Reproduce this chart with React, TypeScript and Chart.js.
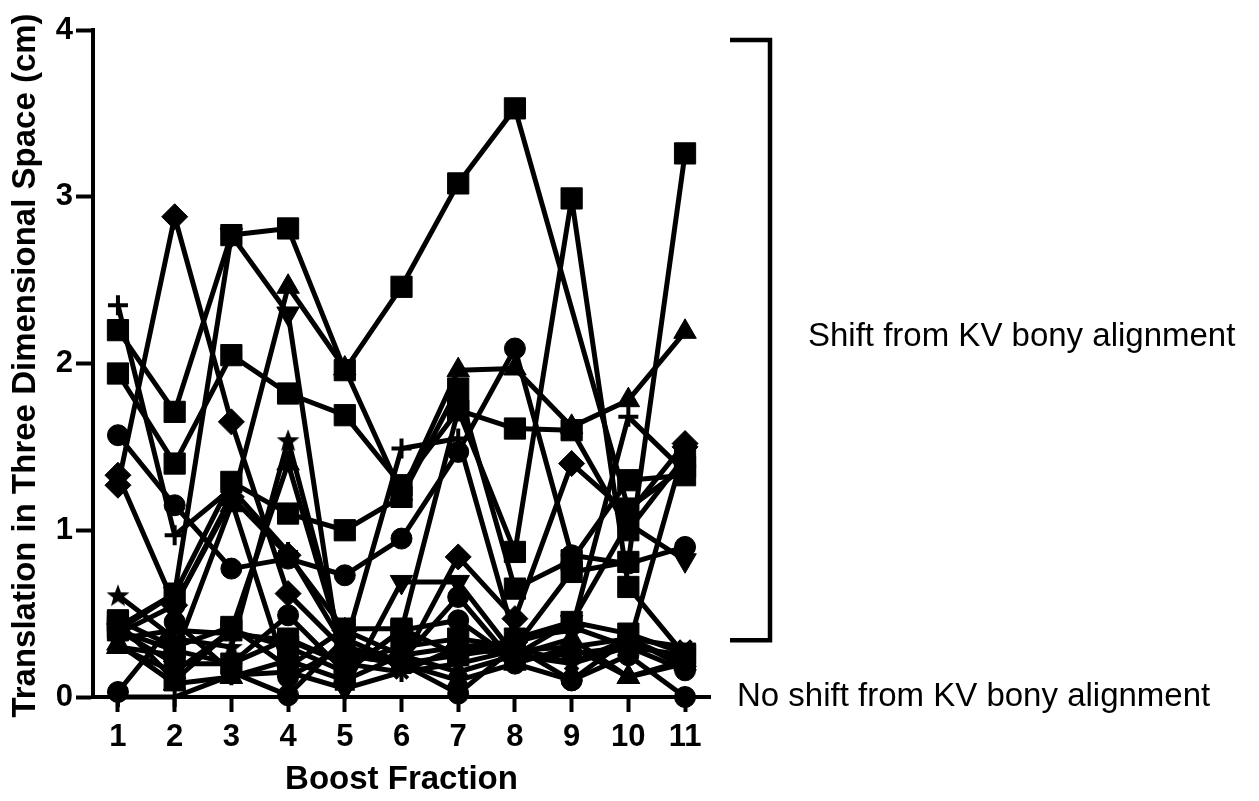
import React, { useEffect, useRef } from "react";
import { Chart, registerables } from "chart.js";

Chart.register(...registerables);

// ---- data ----
const fractions = [1, 2, 3, 4, 5, 6, 7, 8, 9, 10, 11];
const xTickValues = [1, 2, 3, 4, 5, 6, 7, 8, 9, 10, 11];
const yTickValues = [0, 1, 2, 3, 4];

const seriesA = [2.20, 1.71, 2.77, 2.81, 1.96, 2.46, 3.08, 3.53, null, 1.13, 1.38];
const seriesB = [1.94, 1.40, 2.05, 1.82, 1.69, 1.27, 1.72, 1.61, 1.60, 1.00, 1.44];
const seriesC = [1.27, 2.88, 1.65, 0.62, 0.28, 0.20, 0.84, 0.47, 1.40, 1.10, 1.52];
const seriesD = [1.33, 0.55, 1.20, 0.85, 0.40, 0.25, 0.30, 0.33, 0.42, 0.30, 1.50];
const seriesE = [0.30, 0.25, 1.15, 2.46, 1.97, 1.22, 1.96, 1.97, 1.62, 1.78, 2.19];
const seriesF = [0.40, 0.62, 2.77, 2.30, 0.05, 0.69, 0.69, 0.25, 0.45, 1.04, 0.82];
const seriesG = [1.57, 1.15, 0.77, 0.83, 0.73, 0.95, 1.47, 2.09, 0.85, 0.80, 0.90];
const seriesH = [0.46, 0.30, 0.42, 0.18, 0.41, 0.41, 0.25, 0.35, 0.45, 0.38, 0.26];
const seriesI = [0.40, 0.20, 0.20, 0.49, 0.15, 0.40, 0.46, 0.22, 0.26, 0.30, 0.16];
const seriesJ = [0.03, 0.45, 0.15, 0.01, 0.35, 0.20, 0.02, 0.30, 0.10, 0.25, 0.00];
const seriesK = [2.35, 0.97, 1.25, 0.87, 0.30, 1.49, 1.55, 0.35, 0.40, 1.68, 1.35];
const seriesL = [0.00, 0.00, 0.13, 0.15, 0.05, 0.15, 0.20, 0.28, 0.30, 0.35, 0.20];
const seriesM = [0.61, 0.35, 0.30, 1.54, 0.25, 0.20, 0.25, 0.30, 0.20, 0.30, 0.25];
const seriesN = [0.32, 0.08, 0.12, 0.22, 0.10, 0.25, 0.15, 0.25, 0.35, 0.12, 0.22];
const seriesO = [0.35, 0.40, 0.38, 0.34, 0.20, 0.15, 0.30, 0.25, 0.20, 0.35, 0.30];
const seriesP = [0.42, 0.62, 1.29, 1.10, 1.00, 1.20, 1.85, 0.65, 0.82, 1.30, 1.33];
const seriesQ = [0.45, 0.10, 0.40, 0.30, 0.15, 0.40, 1.72, 0.87, 2.99, 0.66, 0.25];
const seriesR = [0.40, 0.28, 0.20, 0.35, 0.20, 0.30, 0.35, 0.30, 0.75, 0.81, 3.26];
const seriesS = [0.30, 0.15, 0.40, 1.40, 0.25, 0.20, 0.10, 0.20, 0.30, 0.12, 0.20];
const seriesT = [0.38, 0.55, 1.18, 0.12, 0.30, 0.22, 0.60, 0.20, 0.10, 0.35, 0.18];

const allSeries = [
  seriesA, seriesB, seriesC, seriesD, seriesE, seriesF, seriesG, seriesH, seriesI, seriesJ,
  seriesK, seriesL, seriesM, seriesN, seriesO, seriesP, seriesQ, seriesR, seriesS, seriesT,
];
const markerKinds = [
  "square", "square", "diamond", "diamond", "triUp", "triDown", "circle", "square", "circle", "circle",
  "plus", "plus", "star", "triUp", "x", "square", "square", "square", "triUp", "circle",
];

const xTitle = "Boost Fraction";
const yTitle = "Translation in Three Dimensional Space (cm)";
const shiftLabel = "Shift from KV bony alignment";
const noShiftLabel = "No shift from KV bony alignment";
const bracketRange = [0.34, 3.94];
const shiftLabelValue = 2.16;
const noShiftLabelValue = 0;

const FONT = '"Liberation Sans", Arial, Helvetica, sans-serif';

function makeStar(): HTMLCanvasElement {
  const c = document.createElement("canvas");
  c.width = 26;
  c.height = 26;
  const g = c.getContext("2d")!;
  g.fillStyle = "#000";
  g.beginPath();
  const cx = 13, cy = 14, ro = 12, ri = 5;
  for (let i = 0; i < 10; i++) {
    const r = i % 2 === 0 ? ro : ri;
    const a = -Math.PI / 2 + (i * Math.PI) / 5;
    const px = cx + r * Math.cos(a);
    const py = cy + r * Math.sin(a);
    if (i === 0) g.moveTo(px, py);
    else g.lineTo(px, py);
  }
  g.closePath();
  g.fill();
  return c;
}

function markerProps(kind: string, star: HTMLCanvasElement) {
  switch (kind) {
    case "square":
      return { pointStyle: "rect", pointRadius: 15, pointBorderWidth: 1, pointRotation: 0 };
    case "circle":
      return { pointStyle: "circle", pointRadius: 10.5, pointBorderWidth: 1, pointRotation: 0 };
    case "diamond":
      return { pointStyle: "rectRot", pointRadius: 13, pointBorderWidth: 1, pointRotation: 0 };
    case "triUp":
      return { pointStyle: "triangle", pointRadius: 13, pointBorderWidth: 1, pointRotation: 0 };
    case "triDown":
      return { pointStyle: "triangle", pointRadius: 13, pointBorderWidth: 1, pointRotation: 180 };
    case "plus":
      return { pointStyle: "cross", pointRadius: 10, pointBorderWidth: 4, pointRotation: 0 };
    case "x":
      return { pointStyle: "crossRot", pointRadius: 9, pointBorderWidth: 4, pointRotation: 0 };
    case "star":
    default:
      return { pointStyle: star, pointRadius: 12, pointBorderWidth: 1, pointRotation: 0 };
  }
}

const annotationPlugin = {
  id: "annotations",
  afterDraw(chart: any) {
    const { ctx, chartArea } = chart;
    const y = chart.scales.y;
    ctx.save();
    // bracket
    const top = y.getPixelForValue(bracketRange[1]);
    const bot = y.getPixelForValue(bracketRange[0]);
    const bx = chartArea.right + 60;
    const bl = chartArea.right + 20;
    ctx.strokeStyle = "#000";
    ctx.lineWidth = 4.5;
    ctx.lineJoin = "miter";
    ctx.beginPath();
    ctx.moveTo(bl, top);
    ctx.lineTo(bx, top);
    ctx.lineTo(bx, bot);
    ctx.lineTo(bl, bot);
    ctx.stroke();
    // labels
    ctx.fillStyle = "#000";
    ctx.font = `33px ${FONT}`;
    ctx.textBaseline = "middle";
    ctx.textAlign = "left";
    ctx.fillText(shiftLabel, chartArea.right + 98, y.getPixelForValue(shiftLabelValue));
    ctx.fillText(noShiftLabel, chartArea.right + 27, y.getPixelForValue(noShiftLabelValue));
    // y title
    ctx.translate(26, (chartArea.top + chartArea.bottom) / 2 + 2);
    ctx.rotate(-Math.PI / 2);
    ctx.textAlign = "center";
    ctx.font = `bold 33px ${FONT}`;
    ctx.fillText(yTitle, 0, 0);
    ctx.restore();
  },
};

export default function App() {
  const ref = useRef<HTMLCanvasElement | null>(null);

  useEffect(() => {
    document.body.style.margin = "0";
    const canvas = ref.current;
    if (!canvas) return;
    const star = makeStar();

    const datasets = allSeries.map((vals, i) => ({
      label: `Patient ${i + 1}`,
      data: fractions.map((f, j) => ({ x: f, y: vals[j] })),
      borderColor: "#000",
      backgroundColor: "#000",
      borderWidth: 5,
      borderJoinStyle: "round",
      pointBackgroundColor: "#000",
      pointBorderColor: "#000",
      tension: 0,
      spanGaps: true,
      clip: false,
      ...markerProps(markerKinds[i], star),
    }));

    const chart = new Chart(canvas, {
      type: "line",
      data: { datasets: datasets as any },
      options: {
        animation: false,
        responsive: false,
        devicePixelRatio: 1,
        layout: { padding: { left: 6, right: 549, top: 30, bottom: 1 } },
        plugins: { legend: { display: false }, tooltip: { enabled: false } },
        scales: {
          x: {
            type: "linear",
            min: 0.56,
            max: 11.44,
            afterBuildTicks: (scale: any) => {
              scale.ticks = xTickValues.map((v) => ({ value: v }));
            },
            afterFit: (scale: any) => {
              scale.height = 103;
            },
            border: { display: true, color: "#000", width: 4 },
            grid: {
              drawOnChartArea: false,
              drawTicks: true,
              tickLength: 15,
              tickWidth: 4,
              tickColor: "#000",
              color: "#000",
            },
            ticks: {
              color: "#000",
              padding: 7,
              maxRotation: 0,
              autoSkip: false,
              font: { family: FONT, size: 31, weight: "bold" },
              callback: (v: any) => String(v),
            },
            title: {
              display: true,
              text: xTitle,
              color: "#000",
              padding: 0,
              font: { family: FONT, size: 33, weight: "bold" },
            },
          },
          y: {
            type: "linear",
            min: 0,
            max: 4,
            afterBuildTicks: (scale: any) => {
              scale.ticks = yTickValues.map((v) => ({ value: v }));
            },
            afterFit: (scale: any) => {
              scale.width = 87;
            },
            border: { display: true, color: "#000", width: 4 },
            grid: {
              drawOnChartArea: false,
              drawTicks: true,
              tickLength: 17,
              tickWidth: 4,
              tickColor: "#000",
              color: "#000",
            },
            ticks: {
              color: "#000",
              padding: 3,
              font: { family: FONT, size: 31, weight: "bold" },
              callback: (v: any) => String(v),
            },
            title: { display: false },
          },
        },
      },
      plugins: [annotationPlugin],
    } as any);

    return () => chart.destroy();
  }, []);

  return (
    <div style={{ width: 1259, height: 801 }}>
      <canvas ref={ref} width={1259} height={801} style={{ display: "block", width: 1259, height: 801 }} />
    </div>
  );
}
